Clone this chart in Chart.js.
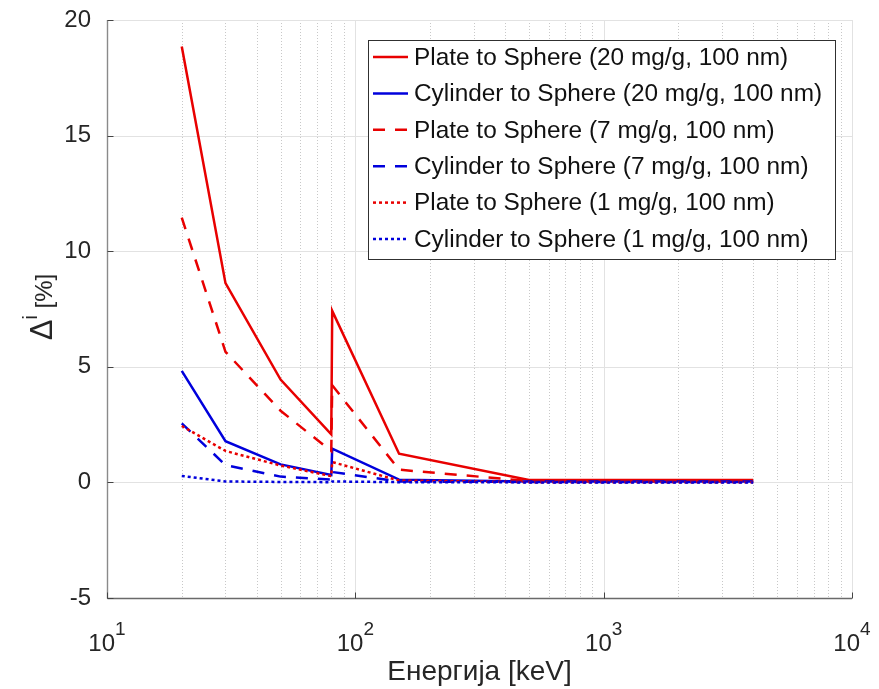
<!DOCTYPE html>
<html>
<head>
<meta charset="utf-8">
<script src="https://cdn.jsdelivr.net/npm/chart.js@4.4.1/dist/chart.umd.min.js"></script>
<style>
  html, body { margin: 0; padding: 0; background: #ffffff; }
  #wrap { width: 879px; height: 689px; }
</style>
</head>
<body>
<div id="wrap"><canvas id="c" width="879" height="689"></canvas></div>
<script>
// Photon energies (keV); 80.7 keV sits just above the gold K-edge
const energies = [20, 30, 50, 80, 80.7, 150, 500, 1000, 4000];

// Relative dose-enhancement differences, in %
const plate20 = [18.85, 8.62, 4.45, 2.08, 7.42, 1.24, 0.10, 0.10, 0.10];
const cyl20   = [4.82, 1.78, 0.78, 0.32, 1.46, 0.12, 0.04, 0.04, 0.04];
const plate7  = [11.45, 5.65, 3.10, 1.35, 4.20, 0.55, 0.06, 0.05, 0.05];
const cyl7    = [2.55, 0.75, 0.25, 0.12, 0.45, 0.04, 0.02, 0.02, 0.02];
const plate1  = [2.44, 1.36, 0.73, 0.27, 0.88, 0.08, 0.01, 0.01, 0.01];
const cyl1    = [0.28, 0.04, 0.02, 0.01, 0.04, 0.01, 0.00, 0.00, 0.00];

const seriesLabels = [
  'Plate to Sphere (20 mg/g, 100 nm)',
  'Cylinder to Sphere (20 mg/g, 100 nm)',
  'Plate to Sphere (7 mg/g, 100 nm)',
  'Cylinder to Sphere (7 mg/g, 100 nm)',
  'Plate to Sphere (1 mg/g, 100 nm)',
  'Cylinder to Sphere (1 mg/g, 100 nm)'
];

// Decade tick labels on the energy axis: base 10 with exponent
const xTickValues = [10, 100, 1000, 10000];
const xTickExponents = ['1', '2', '3', '4'];

const xTitle = 'Енергија [keV]';

const FONT = '"Liberation Sans", Arial, Helvetica, sans-serif';
const RED = '#e80000';
const BLUE = '#0000dc';
const DASH = [12, 10];
const DOT = [3, 3];

const seriesValues = [plate20, cyl20, plate7, cyl7, plate1, cyl1];
const seriesColors = [RED, BLUE, RED, BLUE, RED, BLUE];
const seriesDashes = [[], [], DASH, DASH, DOT, DOT];

const datasets = seriesValues.map((vals, i) => ({
  label: seriesLabels[i],
  data: energies.map((e, k) => ({ x: e, y: vals[k] })),
  borderColor: seriesColors[i],
  backgroundColor: seriesColors[i],
  borderDash: seriesDashes[i],
  borderWidth: 2.5,
  pointRadius: 0,
  tension: 0,
  fill: false,
  order: seriesValues.length - i   // later series drawn on top
}));

// Grid, axes, tick marks, exponent tick labels, titles and boxed legend
const frame = {
  id: 'frame',
  beforeDatasetsDraw(chart) {
    const { ctx, chartArea: a, scales: { x, y } } = chart;
    ctx.save();
    ctx.lineWidth = 1;
    // vertical grid: solid at decades, dotted in between
    for (let d = 10; d < 10000; d *= 10) {
      for (let m = 1; m <= 9; m++) {
        const v = d * m;
        if (v === 10) continue;
        const px = Math.round(x.getPixelForValue(v)) + 0.5;
        ctx.beginPath();
        if (m === 1) { ctx.setLineDash([]); ctx.strokeStyle = '#e2e2e2'; }
        else { ctx.setLineDash([1, 2]); ctx.strokeStyle = '#c8c8c8'; }
        ctx.moveTo(px, a.top); ctx.lineTo(px, a.bottom); ctx.stroke();
      }
    }
    ctx.setLineDash([]);
    ctx.strokeStyle = '#e2e2e2';
    const px4 = Math.round(x.getPixelForValue(10000)) + 0.5;
    ctx.beginPath(); ctx.moveTo(px4, a.top); ctx.lineTo(px4, a.bottom); ctx.stroke();
    // horizontal grid at y ticks
    y.ticks.forEach(t => {
      const py = Math.round(y.getPixelForValue(t.value)) + 0.5;
      ctx.beginPath(); ctx.moveTo(a.left, py); ctx.lineTo(a.right, py); ctx.stroke();
    });
    ctx.restore();
  },
  afterDatasetsDraw(chart) {
    const { ctx, chartArea: a, scales: { x, y } } = chart;
    ctx.save();
    ctx.setLineDash([]);
    // axis lines
    const ax = Math.round(a.left) + 0.5, ay = Math.round(a.bottom) + 0.5;
    ctx.lineWidth = 1.4;
    ctx.strokeStyle = '#8a8a8a';
    ctx.beginPath(); ctx.moveTo(ax, a.top); ctx.lineTo(ax, ay); ctx.stroke();
    ctx.strokeStyle = '#6a6a6a';
    ctx.beginPath(); ctx.moveTo(ax, ay); ctx.lineTo(a.right, ay); ctx.stroke();
    // tick marks
    ctx.lineWidth = 1;
    ctx.strokeStyle = '#444444';
    y.ticks.forEach(t => {
      const py = Math.round(y.getPixelForValue(t.value)) + 0.5;
      ctx.beginPath(); ctx.moveTo(ax, py); ctx.lineTo(ax + 6, py); ctx.stroke();
    });
    xTickValues.forEach(v => {
      const px = Math.round(x.getPixelForValue(v)) + 0.5;
      ctx.beginPath(); ctx.moveTo(px, ay); ctx.lineTo(px, ay - 6); ctx.stroke();
    });
    // x tick labels: 10 with superscript exponent
    ctx.fillStyle = '#262626';
    ctx.textBaseline = 'alphabetic';
    ctx.textAlign = 'left';
    xTickValues.forEach((v, i) => {
      const px = x.getPixelForValue(v);
      ctx.font = '24px ' + FONT;
      const wb = ctx.measureText('10').width;
      ctx.font = '19px ' + FONT;
      const we = ctx.measureText(xTickExponents[i]).width;
      const x0 = px - (wb + we) / 2;
      ctx.font = '24px ' + FONT;
      ctx.fillText('10', x0, a.bottom + 53);
      ctx.font = '19px ' + FONT;
      ctx.fillText(xTickExponents[i], x0 + wb, a.bottom + 37);
    });
    // x title
    ctx.font = '28px ' + FONT;
    ctx.textAlign = 'center';
    ctx.fillText(xTitle, (a.left + a.right) / 2, a.bottom + 82);
    // y title: Δ^i [%], rotated, centred on the plot height
    ctx.save();
    ctx.translate(52, (a.top + a.bottom) / 2 - 2);
    ctx.rotate(-Math.PI / 2);
    ctx.textAlign = 'left';
    const parts = [
      { t: 'Δ', f: '31px ', dy: 0 },
      { t: 'i', f: '20px ', dy: -15 },
      { t: ' [%]', f: '24px ', dy: 0 }
    ];
    let total = 0;
    parts.forEach(p => { ctx.font = p.f + FONT; p.w = ctx.measureText(p.t).width; total += p.w; });
    let cx = -total / 2;
    parts.forEach(p => { ctx.font = p.f + FONT; ctx.fillText(p.t, cx, p.dy); cx += p.w; });
    ctx.restore();
    // legend
    const lx = a.right - 17, lt = a.top + 20;
    const boxL = 368, rowH = 36.4, boxH = 219;
    ctx.fillStyle = '#ffffff';
    ctx.fillRect(boxL, lt, lx - boxL, boxH);
    ctx.strokeStyle = '#303030';
    ctx.lineWidth = 1;
    ctx.strokeRect(boxL + 0.5, lt + 0.5, lx - boxL, boxH);
    chart.data.datasets.forEach((ds, i) => {
      const cy = lt + 17 + i * rowH;
      ctx.strokeStyle = ds.borderColor;
      ctx.lineWidth = ds.borderWidth;
      ctx.setLineDash(ds.borderDash);
      ctx.beginPath(); ctx.moveTo(boxL + 5, cy); ctx.lineTo(boxL + 40, cy); ctx.stroke();
      ctx.setLineDash([]);
      ctx.fillStyle = '#111111';
      ctx.font = '24.4px ' + FONT;
      ctx.textAlign = 'left';
      ctx.textBaseline = 'middle';
      ctx.fillText(ds.label, boxL + 46, cy + 1);
    });
    ctx.restore();
  }
};

new Chart(document.getElementById('c'), {
  type: 'line',
  data: { datasets },
  options: {
    responsive: false,
    animation: false,
    events: [],
    layout: { autoPadding: false, padding: { top: 20, right: 27, left: 0, bottom: 0 } },
    plugins: { legend: { display: false }, tooltip: { enabled: false } },
    scales: {
      x: {
        type: 'logarithmic',
        min: 10,
        max: 10000,
        grid: { display: false },
        border: { display: false },
        ticks: { display: false },
        afterFit(s) { s.height = 91; s.paddingLeft = 0; s.paddingRight = 0; }
      },
      y: {
        type: 'linear',
        min: -5,
        max: 20,
        grid: { display: false, drawTicks: false },
        border: { display: false },
        ticks: {
          stepSize: 5,
          padding: 16,
          color: '#262626',
          font: { family: FONT, size: 24 }
        },
        afterFit(s) { s.width = 107; s.paddingTop = 0; s.paddingBottom = 0; }
      }
    }
  },
  plugins: [frame]
});
</script>
</body>
</html>
